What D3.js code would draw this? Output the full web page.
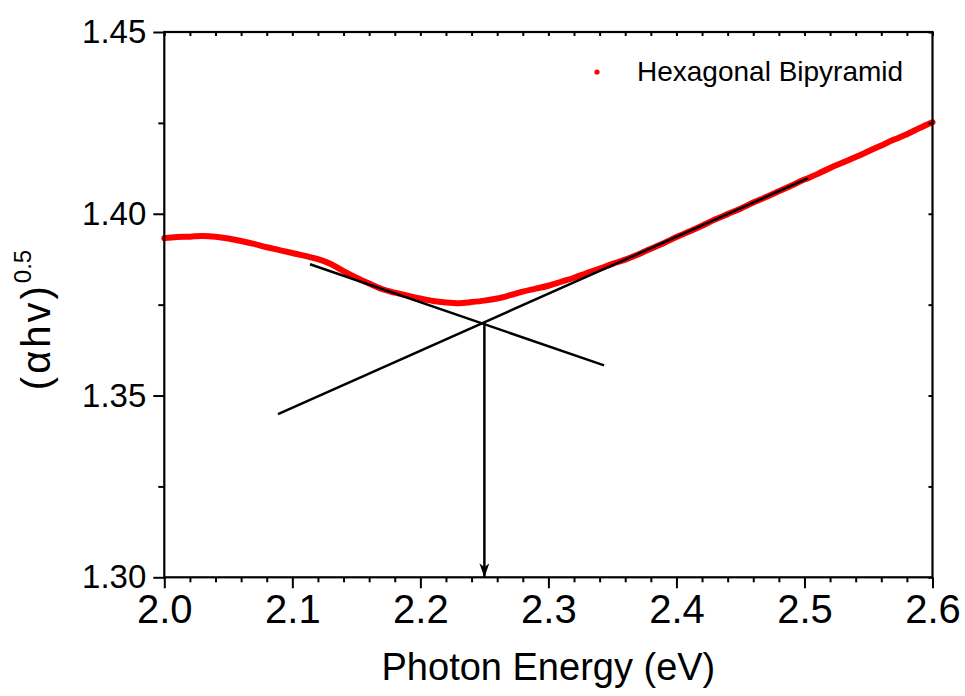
<!DOCTYPE html>
<html>
<head>
<meta charset="utf-8">
<script src="https://cdn.jsdelivr.net/npm/d3@7"></script>
<style>
  html, body { margin: 0; padding: 0; background: #fff; }
  svg { display: block; font-family: "Liberation Sans", Arial, Helvetica, sans-serif; }
</style>
</head>
<body>
<svg id="chart" width="965" height="696"></svg>
<script>
// Photon energy (eV), sampled every 0.01 eV
const energy = [
  2.00, 2.01, 2.02, 2.03, 2.04, 2.05, 2.06, 2.07, 2.08, 2.09,
  2.10, 2.11, 2.12, 2.13, 2.14, 2.15, 2.16, 2.17, 2.18, 2.19,
  2.20, 2.21, 2.22, 2.23, 2.24, 2.25, 2.26, 2.27, 2.28, 2.29,
  2.30, 2.31, 2.32, 2.33, 2.34, 2.35, 2.36, 2.37, 2.38, 2.39,
  2.40, 2.41, 2.42, 2.43, 2.44, 2.45, 2.46, 2.47, 2.48, 2.49,
  2.50, 2.51, 2.52, 2.53, 2.54, 2.55, 2.56, 2.57, 2.58, 2.59, 2.60
];
// (alpha h nu)^0.5 for the hexagonal bipyramid sample
const absorbance = [
  1.3933, 1.3936, 1.3937, 1.3939, 1.3937, 1.3932, 1.3925, 1.3917, 1.3908, 1.3900,
  1.3892, 1.3884, 1.3875, 1.3862, 1.3842, 1.3824, 1.3808, 1.3793, 1.3783, 1.3775,
  1.3767, 1.3760, 1.3756, 1.3754, 1.3757, 1.3761, 1.3767, 1.3776, 1.3786, 1.3794,
  1.3802, 1.3813, 1.3824, 1.3837, 1.3849, 1.3862, 1.3874, 1.3888, 1.3904, 1.3919,
  1.3936, 1.3951, 1.3967, 1.3984, 1.3999, 1.4014, 1.4031, 1.4046, 1.4062, 1.4078,
  1.4094, 1.4109, 1.4126, 1.4141, 1.4156, 1.4172, 1.4188, 1.4204, 1.4219, 1.4236, 1.4252
];

// Linear extrapolations (start / end points) used to locate the gap
const fitBelow = [[2.1138, 1.3861], [2.3435, 1.3583]];
const fitAbove = [[2.0888, 1.3449], [2.5029, 1.4098]];
const bandGap = [[2.25, 1.370], [2.25, 1.300]];

const xMajor = [2.0, 2.1, 2.2, 2.3, 2.4, 2.5, 2.6];
const xMinor = [2.02, 2.04, 2.06, 2.08, 2.12, 2.14, 2.16, 2.18, 2.22, 2.24, 2.26, 2.28,
                2.32, 2.34, 2.36, 2.38, 2.42, 2.44, 2.46, 2.48, 2.52, 2.54, 2.56, 2.58];
const yMajor = [1.30, 1.35, 1.40, 1.45];
const yMinor = [1.325, 1.375, 1.425];

const seriesName = "Hexagonal Bipyramid";

const svg = d3.select("#chart");
const m = { left: 164.3, right: 932.5, top: 32, bottom: 577.3 };

const x = d3.scaleLinear().domain([2.0, 2.6]).range([m.left, m.right]);
const y = d3.scaleLinear().domain([1.30, 1.45]).range([m.bottom, m.top]);

// data band
const pts = energy.map((e, i) => [e, absorbance[i]]);
svg.append("path")
  .datum(pts)
  .attr("fill", "none")
  .attr("stroke", "#ff0000")
  .attr("stroke-width", 6)
  .attr("stroke-linejoin", "round")
  .attr("stroke-linecap", "round")
  .attr("d", d3.line().x(d => x(d[0])).y(d => y(d[1])).curve(d3.curveMonotoneX));

// fitted straight lines
const lineGen = d3.line().x(d => x(d[0])).y(d => y(d[1]));
[fitBelow, fitAbove].forEach(seg => {
  svg.append("path")
    .datum(seg)
    .attr("fill", "none")
    .attr("stroke", "#000")
    .attr("stroke-width", 2.5)
    .attr("d", lineGen);
});

// arrow down to the energy axis
svg.append("defs").append("marker")
  .attr("id", "arrowHead")
  .attr("viewBox", "0 0 14 10")
  .attr("refX", 14).attr("refY", 5)
  .attr("markerWidth", 14).attr("markerHeight", 10)
  .attr("markerUnits", "userSpaceOnUse")
  .attr("orient", "auto")
  .append("path")
  .attr("d", "M0,0 L14,5 L0,10 L4,5 Z")
  .attr("fill", "#000");

svg.append("line")
  .attr("x1", x(bandGap[0][0])).attr("y1", y(bandGap[0][1]))
  .attr("x2", x(bandGap[1][0])).attr("y2", y(bandGap[1][1]))
  .attr("stroke", "#000")
  .attr("stroke-width", 2.5)
  .attr("marker-end", "url(#arrowHead)");

// frame
svg.append("rect")
  .attr("x", m.left).attr("y", m.top)
  .attr("width", m.right - m.left).attr("height", m.bottom - m.top)
  .attr("fill", "none").attr("stroke", "#000").attr("stroke-width", 2.2);

function styleAxis(g) {
  g.select(".domain").remove();
  g.selectAll(".tick line").attr("stroke", "#000").attr("stroke-width", 2);
}

// bottom axis
svg.append("g").attr("transform", `translate(0,${m.bottom})`)
  .call(d3.axisBottom(x).tickValues(xMajor).tickSize(11).tickPadding(6).tickFormat(d3.format(".1f")))
  .call(styleAxis)
  .call(g => g.selectAll("text").attr("font-size", 40).attr("fill", "#000")
    .attr("font-family", "Liberation Sans, Arial, sans-serif"));
svg.append("g").attr("transform", `translate(0,${m.bottom})`)
  .call(d3.axisBottom(x).tickValues(xMinor).tickSize(5).tickFormat(""))
  .call(styleAxis);

// top axis (inward ticks)
svg.append("g").attr("transform", `translate(0,${m.top})`)
  .call(d3.axisTop(x).tickValues(xMajor.concat(xMinor)).tickSize(-4).tickFormat(""))
  .call(styleAxis);

// left axis
svg.append("g").attr("transform", `translate(${m.left},0)`)
  .call(d3.axisLeft(y).tickValues(yMajor).tickSize(11).tickPadding(7).tickFormat(d3.format(".2f")))
  .call(styleAxis)
  .call(g => g.selectAll("text").attr("font-size", 33).attr("fill", "#000")
    .attr("font-family", "Liberation Sans, Arial, sans-serif"));
svg.append("g").attr("transform", `translate(${m.left},0)`)
  .call(d3.axisLeft(y).tickValues(yMinor).tickSize(6).tickFormat(""))
  .call(styleAxis);

// right axis (inward ticks)
svg.append("g").attr("transform", `translate(${m.right},0)`)
  .call(d3.axisRight(y).tickValues(yMajor.concat(yMinor)).tickSize(-4).tickFormat(""))
  .call(styleAxis);

// axis titles
svg.append("text")
  .attr("x", (m.left + m.right) / 2).attr("y", 680)
  .attr("text-anchor", "middle")
  .attr("font-size", 38)
  .text("Photon Energy (eV)");

const yTitle = svg.append("text")
  .attr("transform", "translate(50,320) rotate(-90)")
  .attr("text-anchor", "middle")
  .attr("font-size", 40);
yTitle.append("tspan").attr("letter-spacing", 3).text("(\u03b1hv)");
yTitle.append("tspan").attr("font-size", 24).attr("dy", -19).text("0.5");

// legend
svg.append("circle").attr("cx", 597).attr("cy", 72).attr("r", 2.6).attr("fill", "#ff0000");
svg.append("text")
  .attr("x", 637).attr("y", 81)
  .attr("font-size", 28)
  .text(seriesName);
</script>
</body>
</html>
